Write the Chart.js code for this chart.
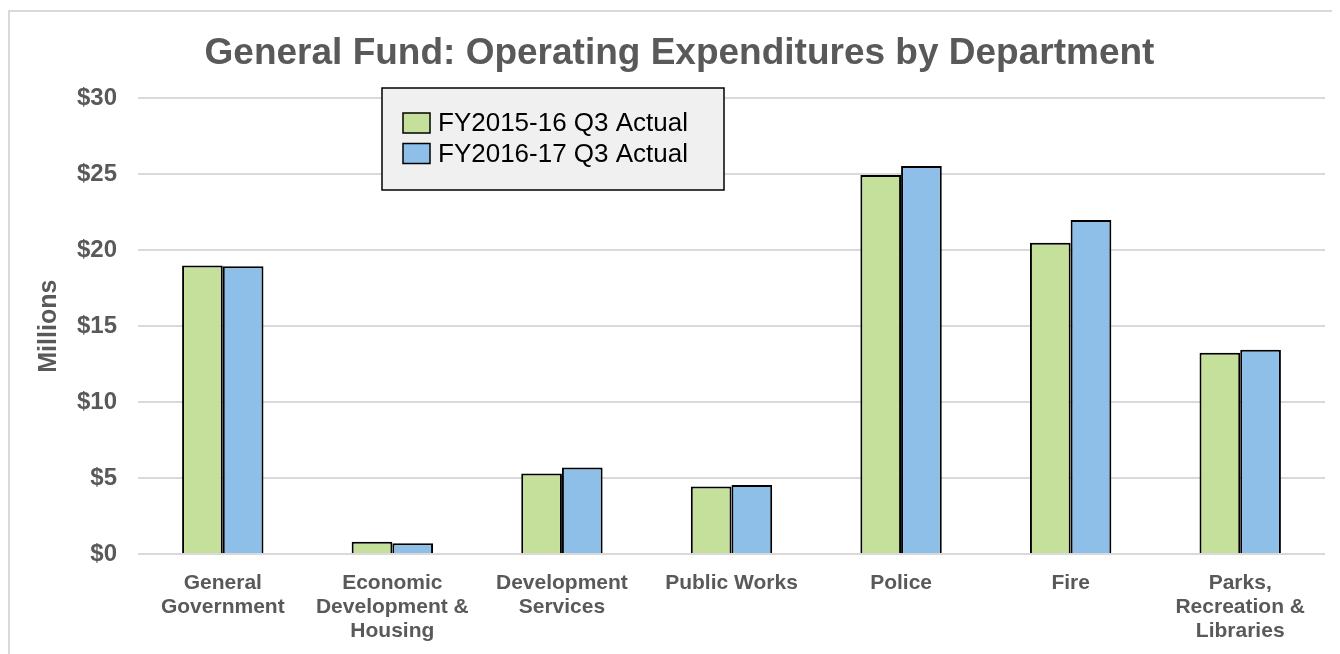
<!DOCTYPE html>
<html>
<head>
<meta charset="utf-8">
<script src="https://cdn.jsdelivr.net/npm/chart.js@4/dist/chart.umd.min.js"></script>
<style>
	html, body { margin: 0; padding: 0; background: #fff; overflow: hidden; }
	#frame {
		position: absolute; left: 8px; top: 10px; width: 1322px; height: 660px;
		border-left: 2px solid #d9d9d9; border-top: 2px solid #d9d9d9;
	}
	#wrap { position: absolute; left: 0; top: 0; width: 1340px; height: 654px; }
</style>
</head>
<body>
<div id="frame"></div>
<div id="wrap"><canvas id="chart" width="1340" height="654"></canvas></div>
<script>
// Data (millions of dollars)
const departments = [
	['General', 'Government'],
	['Economic', 'Development &', 'Housing'],
	['Development', 'Services'],
	'Public Works',
	'Police',
	'Fire',
	['Parks,', 'Recreation &', 'Libraries'],
];
const fy1516 = [19.0, 0.8, 5.3, 4.45, 24.95, 20.5, 13.25];
const fy1617 = [18.95, 0.7, 5.7, 4.55, 25.55, 22.0, 13.45];
const seriesNames = ['FY2015-16 Q3 Actual', 'FY2016-17 Q3 Actual'];
const yTicks = [0, 5, 10, 15, 20, 25, 30];

const FONT = "'Liberation Sans', Arial, sans-serif";
const GREY = '#595959';

// Legend box drawn inside the plot, like the original
const boxLegend = {
	id: 'boxLegend',
	afterDraw(chart) {
		const ctx = chart.ctx;
		const x = 382, y = 88, w = 342, h = 102;
		ctx.save();
		ctx.fillStyle = '#f0f0f0';
		ctx.fillRect(x, y, w, h);
		ctx.strokeStyle = '#000';
		ctx.lineWidth = 1.5;
		ctx.strokeRect(x, y, w, h);
		ctx.font = '26px ' + FONT;
		ctx.textBaseline = 'middle';
		chart.data.datasets.forEach((ds, i) => {
			const ly = y + 35 + i * 30.5;
			ctx.fillStyle = ds.backgroundColor;
			ctx.fillRect(x + 21, ly - 10, 27, 20);
			ctx.lineWidth = 1.5;
			ctx.strokeRect(x + 21, ly - 10, 27, 20);
			ctx.fillStyle = '#000';
			ctx.fillText(ds.label, x + 56, ly + 1);
		});
		ctx.restore();
	},
};

new Chart(document.getElementById('chart'), {
	type: 'bar',
	data: {
		labels: departments,
		datasets: [
			{
				label: seriesNames[0],
				data: fy1516,
				backgroundColor: '#c5e09b',
				borderColor: '#000',
				borderWidth: 2,
			},
			{
				label: seriesNames[1],
				data: fy1617,
				backgroundColor: '#8ebfe8',
				borderColor: '#000',
				borderWidth: 2,
			},
		],
	},
	options: {
		responsive: false,
		animation: false,
		devicePixelRatio: 1,
		layout: { padding: { left: 34, right: 15, top: 0, bottom: 0 } },
		datasets: { bar: { barPercentage: 1, categoryPercentage: 0.48 } },
		plugins: {
			legend: { display: false },
			tooltip: { enabled: false },
			title: {
				display: true,
				text: 'General Fund: Operating Expenditures by Department',
				color: GREY,
				font: { family: FONT, size: 37, weight: 'bold' },
				padding: { top: 32, bottom: 22 },
			},
		},
		scales: {
			x: {
				grid: { display: false },
				border: { display: false },
				ticks: {
					color: GREY,
					font: { family: FONT, size: 21, weight: 'bold', lineHeight: 1.15 },
					maxRotation: 0,
					autoSkip: false,
					padding: 9,
				},
				afterFit: (s) => { s.height = 100; },
			},
			y: {
				min: 0,
				max: 30,
				afterBuildTicks: (s) => { s.ticks = yTicks.map((v) => ({ value: v })); },
				grid: { color: '#d9d9d9', lineWidth: 2, drawTicks: false },
				border: { display: false },
				ticks: {
					color: GREY,
					font: { family: FONT, size: 24, weight: 'bold' },
					padding: 21,
					callback: (v) => '$' + v,
				},
				title: {
					display: true,
					text: 'Millions',
					color: GREY,
					font: { family: FONT, size: 25, weight: 'bold' },
					padding: 0,
				},
				afterFit: (s) => { s.width = 104; },
			},
		},
	},
	plugins: [boxLegend],
});
</script>
</body>
</html>
